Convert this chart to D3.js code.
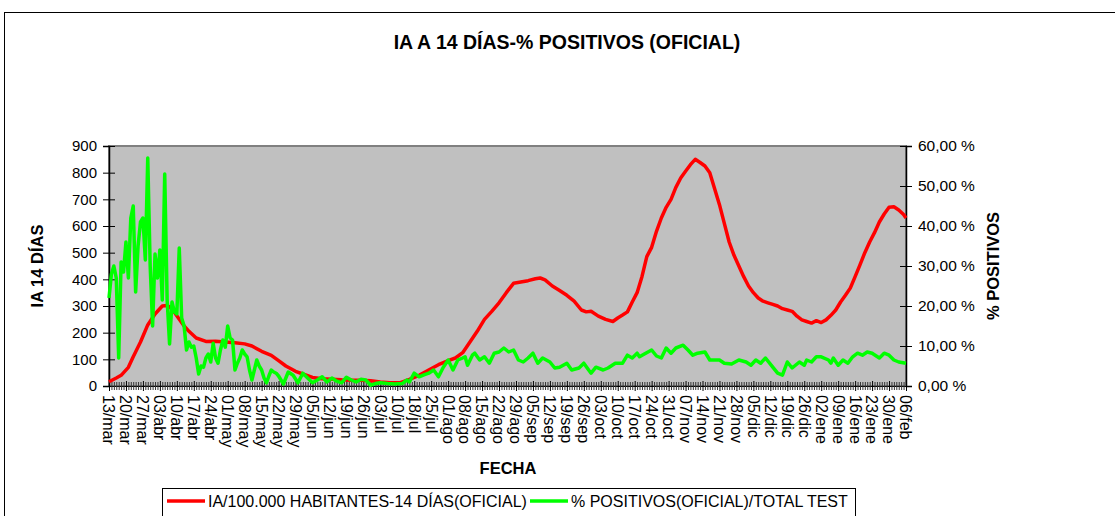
<!DOCTYPE html>
<html>
<meta charset="utf-8">
<head>
<script src="https://d3js.org/d3.v7.min.js"></script>
<style>
  body { margin: 0; background: #fff; }
  text { font-family: "Liberation Sans", Arial, sans-serif; fill: #000; }
</style>
</head>
<body>
<div id="chart"></div>
<script>
// weekly tick labels (one every 7 categories, category 0 = 13/mar)
var xLabels = ["13/mar","20/mar","27/mar","03/abr","10/abr","17/abr","24/abr","01/may","08/may","15/may",
  "22/may","29/may","05/jun","12/jun","19/jun","26/jun","03/jul","10/jul","18/jul","25/jul",
  "01/ago","08/ago","15/ago","22/ago","29/ago","05/sep","12/sep","19/sep","26/sep","03/oct",
  "10/oct","17/oct","24/oct","31/oct","07/nov","14/nov","21/nov","28/nov","05/dic","12/dic",
  "19/dic","26/dic","02/ene","09/ene","16/ene","23/ene","30/ene","06/feb"];
var nDays = 330;

// IA/100.000 habitantes 14 dias (left axis) - category index, value
var iaDays = [0,3,5,8,10,13,16,19,22,24,26,29,31,33,36,40,44,48,52,56,59,63,67,70,73,77,80,84,88,92,96,100,104,108,112,116,120,124,128,132,136,140,143,146,149,152,155,158,161,164,167,170,173,176,178,180,183,186,189,192,195,197,199,202,205,208,210,212,214,216,218,220,222,224,226,228,230,232,234,236,238,240,242,244,246,248,250,252,254,256,258,260,262,264,266,268,270,272,274,276,278,280,282,284,286,288,290,292,294,296,298,300,302,304,306,308,310,312,314,316,318,320,322,324,326,328,329];
var iaValues = [16,30,40,70,110,165,229,270,300,302,290,250,225,205,180,167,168,165,162,158,150,130,115,95,75,55,45,32,27,25,23,22,22,20,15,12,12,25,40,60,80,95,105,125,165,205,250,280,312,350,385,390,395,402,405,398,375,358,340,318,285,278,280,262,250,242,255,266,278,315,350,410,485,520,580,630,670,700,745,780,805,830,850,838,825,800,740,680,610,540,490,450,410,375,350,330,318,312,306,300,290,285,280,262,248,242,236,245,238,248,265,285,315,340,367,410,454,500,540,575,615,645,670,672,660,643,630];

// % positivos (oficial) / total test (right axis)
var posDays = [0,1,2,3,4,5,6,7,8,9,10,11,12,13,14,15,16,17,18,19,20,21,22,23,24,25,26,27,28,29,30,31,32,33,34,35,36,37,38,39,40,41,42,43,44,45,46,47,48,49,50,51,52,53,54,55,56,57,58,59,60,61,62,63,64,65,66,67,68,69,70,72,74,76,78,80,82,84,86,88,90,92,94,96,98,100,102,104,106,108,110,112,115,118,121,123,124,126,128,130,132,134,136,138,140,142,144,146,147,148,150,151,153,155,157,159,161,163,165,167,169,171,173,175,177,179,182,184,186,189,191,194,196,198,199,201,204,206,209,212,214,216,218,219,221,224,226,228,230,232,234,237,239,241,243,246,248,252,254,257,260,263,265,267,269,271,274,276,278,280,282,285,287,288,290,292,294,297,298,299,301,303,305,307,309,311,313,315,318,320,322,324,326,329];
var posValues = [22,28,30,27,7,31,28.5,36,27,42,45,23.5,35,41,42,31.5,57,30,15,33,27,34,21.5,53,21.5,10.5,21,18.5,18,34.5,17,15,9,11,9.7,10,7,3,5,4.7,7,8,6,10.7,7,5.7,9,11.5,9.7,15,12,11.5,4,5.7,7,9,8,7.3,4,1.5,4,6.5,5,4,2,0.8,2.5,4,3.5,3.2,2.5,0.5,3.5,2.7,0.8,3.2,2,0.8,1.5,2.3,1,2,1.2,0.8,2.2,1.5,1,1.7,1.5,0.2,0.6,0.8,0.6,0.5,0.6,1.5,1,3.2,2.3,2.8,3.2,4,2.3,4.7,6.5,4,6.5,7,7.3,5.2,7.7,8.2,6.5,7.3,5.7,8.2,8.5,9.5,8.5,9,6.5,6,7,8.2,5.7,7,6,4.5,4.7,5.7,4,4.5,5.7,4,3.2,4.7,4,4.5,5.7,5.7,7.7,7,8.2,7.3,8,9,7.5,7,9.5,8.2,9.5,10.2,9,7.7,8.2,8.5,6.5,6.5,5.7,5.5,6.5,6,5.2,6.5,5.7,7,4.7,3.2,2.7,6,4.5,6,5.2,6.5,6,7.3,7.3,6.5,5.7,7,5.2,6.5,5.7,7.3,8.2,7.7,8.5,8.2,7,8.2,7.7,6.5,6,5.7];

var iaTicks = [0,100,200,300,400,500,600,700,800,900];
var posTicks = [0,10,20,30,40,50,60];

var width = 1115, height = 516;
var plot = {left: 109, right: 906, top: 146, bottom: 386};

var svg = d3.select("#chart").append("svg")
    .attr("width", width)
    .attr("height", height);

// outer chart border
svg.append("rect")
    .attr("x", 4.5).attr("y", 12.5)
    .attr("width", 1130).attr("height", 540)
    .attr("fill", "none").attr("stroke", "#000").attr("stroke-width", 1);

var x = d3.scaleLinear().domain([0, nDays - 1]).range([plot.left, plot.right]);
var yL = d3.scaleLinear().domain([0, 900]).range([plot.bottom, plot.top]);
var yR = d3.scaleLinear().domain([0, 60]).range([plot.bottom, plot.top]);

// plot area
svg.append("rect")
    .attr("x", plot.left).attr("y", plot.top)
    .attr("width", plot.right - plot.left).attr("height", plot.bottom - plot.top)
    .attr("fill", "#c0c0c0").attr("stroke", "#808080").attr("stroke-width", 2);

// title
svg.append("text")
    .attr("x", 567).attr("y", 49)
    .attr("text-anchor", "middle")
    .style("font-weight", "bold").style("font-size", "19.5px")
    .text("IA A 14 DÍAS-% POSITIVOS (OFICIAL)");

// left axis
var leftAxis = svg.append("g")
    .attr("transform", "translate(" + plot.left + ",0)")
    .call(d3.axisLeft(yL).tickValues(iaTicks).tickSize(6).tickPadding(6));
leftAxis.selectAll(".tick line").attr("x1", 6);
leftAxis.selectAll("text").style("font-size", "15px");

// right axis
var rightAxis = svg.append("g")
    .attr("transform", "translate(" + plot.right + ",0)")
    .call(d3.axisRight(yR).tickValues(posTicks).tickSize(6).tickPadding(6)
      .tickFormat(function(d) { return d3.format(".2f")(d).replace(".", ",") + " %"; }));
rightAxis.selectAll(".tick line").attr("x1", -6);
rightAxis.selectAll("text").style("font-size", "15.5px");

svg.selectAll(".domain").attr("stroke", "#000").attr("stroke-width", 1.5);

// bottom axis: a tick for every category, longer ones every week
var bottom = svg.append("g")
    .attr("transform", "translate(0," + plot.bottom + ")")
    .call(d3.axisBottom(x).tickValues(d3.range(0, nDays)).tickSize(4).tickFormat(""));
bottom.selectAll(".tick line")
    .attr("y1", -4)
    .attr("stroke", "#333")
    .attr("stroke-width", 1);
bottom.selectAll(".tick").filter(function(d) { return d % 7 == 0; })
    .select("line").attr("y1", -5).attr("y2", 5).attr("stroke", "#000");
bottom.select(".domain").attr("stroke", "#000");

// week labels, rotated
svg.append("g").selectAll("text")
    .data(xLabels)
    .enter().append("text")
    .attr("transform", function(d, i) { return "translate(" + x(i * 7) + "," + (plot.bottom + 9) + ") rotate(90)"; })
    .attr("dy", "0.35em")
    .style("font-size", "16px")
    .text(function(d) { return d; });

// axis titles
svg.append("text")
    .attr("transform", "translate(43,266) rotate(-90)")
    .attr("text-anchor", "middle")
    .style("font-weight", "bold").style("font-size", "16.5px")
    .text("IA 14 DÍAS");
svg.append("text")
    .attr("transform", "translate(999,266) rotate(-90)")
    .attr("text-anchor", "middle")
    .style("font-weight", "bold").style("font-size", "16.5px")
    .text("% POSITIVOS");
svg.append("text")
    .attr("x", 508).attr("y", 474)
    .attr("text-anchor", "middle")
    .style("font-weight", "bold").style("font-size", "16.5px")
    .text("FECHA");

// series
var iaLine = d3.line()
    .x(function(d) { return x(d[0]); })
    .y(function(d) { return yL(d[1]); });
var posLine = d3.line()
    .x(function(d) { return x(d[0]); })
    .y(function(d) { return yR(d[1]); });

svg.append("path")
    .datum(d3.zip(iaDays, iaValues))
    .attr("d", iaLine)
    .attr("fill", "none").attr("stroke", "#ff0000").attr("stroke-width", 3.5)
    .attr("stroke-linejoin", "round");

svg.append("path")
    .datum(d3.zip(posDays, posValues))
    .attr("d", posLine)
    .attr("fill", "none").attr("stroke", "#00ff00").attr("stroke-width", 3.5)
    .attr("stroke-linejoin", "round");

// legend
var legend = svg.append("g");
legend.append("rect")
    .attr("x", 162.5).attr("y", 488.5)
    .attr("width", 693).attr("height", 60)
    .attr("fill", "#fff").attr("stroke", "#000");
var legendItems = [
  {label: "IA/100.000 HABITANTES-14 DÍAS(OFICIAL)", color: "#ff0000", x: 167},
  {label: "% POSITIVOS(OFICIAL)/TOTAL TEST", color: "#00ff00", x: 530}
];
legendItems.forEach(function(it) {
  legend.append("line")
    .attr("x1", it.x).attr("x2", it.x + 38)
    .attr("y1", 501).attr("y2", 501)
    .attr("stroke", it.color).attr("stroke-width", 3.5);
  legend.append("text")
    .attr("x", it.x + 41).attr("y", 507)
    .style("font-size", "16px")
    .text(it.label);
});
</script>
</body>
</html>
